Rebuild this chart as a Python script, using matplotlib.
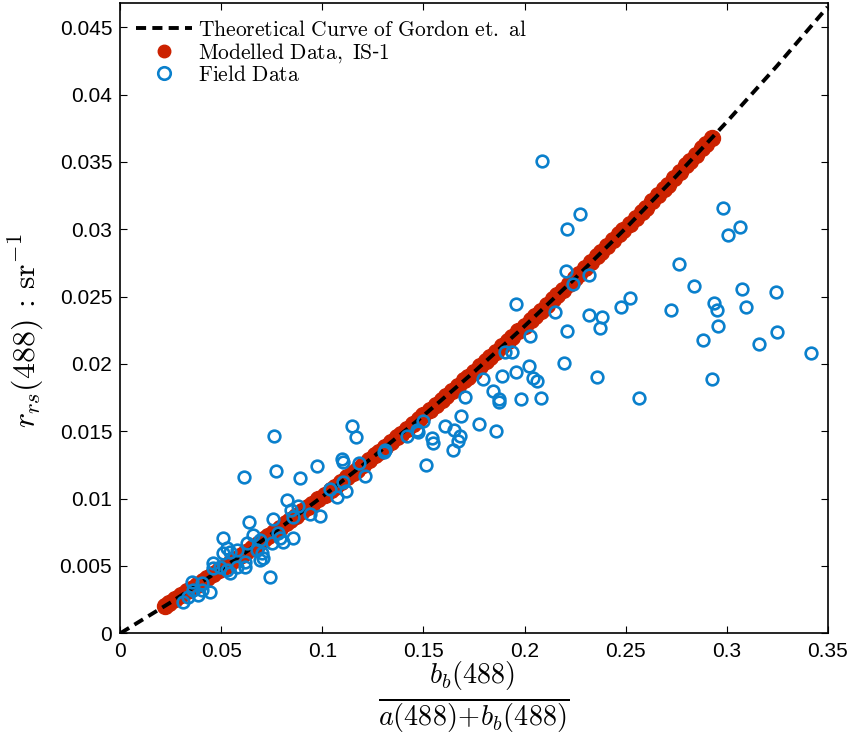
import numpy as np
import matplotlib
matplotlib.use('Agg')
import matplotlib.pyplot as plt

plt.rcParams['font.family'] = ['Liberation Sans', 'DejaVu Sans']
plt.rcParams['mathtext.fontset'] = 'cm'

    # Theoretical curve
curve_x = [0, 0.025, 0.05, 0.075, 0.1, 0.125, 0.15, 0.175, 0.2, 0.225, 0.25, 0.275, 0.3, 0.325, 0.35]
curve_y = [0, 0.0023, 0.00476, 0.00738, 0.01015, 0.01308, 0.01616, 0.0194, 0.0228, 0.02635,
           0.03006, 0.03393, 0.03795, 0.04213, 0.0465]

    # Modelled data IS-1
model_x = [0.022, 0.024, 0.027, 0.030, 0.033, 0.035, 0.038, 0.041, 0.043, 0.046, 0.049, 0.052,
           0.054, 0.057, 0.060, 0.062, 0.065, 0.068, 0.071, 0.073, 0.076, 0.079, 0.082, 0.084,
           0.087, 0.090, 0.093, 0.095, 0.098, 0.101, 0.104, 0.106, 0.109, 0.112, 0.115, 0.117,
           0.120, 0.123, 0.126, 0.128, 0.131, 0.134, 0.137, 0.139, 0.142, 0.145, 0.148, 0.150,
           0.153, 0.156, 0.159, 0.161, 0.164, 0.167, 0.170, 0.172, 0.175, 0.178, 0.181, 0.183,
           0.186, 0.189, 0.192, 0.194, 0.197, 0.200, 0.203, 0.205, 0.208, 0.211, 0.214, 0.216,
           0.219, 0.222, 0.225, 0.227, 0.230, 0.233, 0.236, 0.238, 0.241, 0.244, 0.247, 0.249,
           0.252, 0.255, 0.258, 0.260, 0.263, 0.266, 0.269, 0.271, 0.274, 0.277, 0.280, 0.282,
           0.285, 0.288, 0.290, 0.293]
model_y = [0.00205, 0.00224, 0.00251, 0.00280, 0.00310, 0.00328, 0.00358, 0.00388, 0.00407, 0.00438,
           0.00468, 0.00499, 0.00519, 0.00551, 0.00582, 0.00602, 0.00634, 0.00666, 0.00697, 0.00719,
           0.00752, 0.00784, 0.00817, 0.00838, 0.00872, 0.00905, 0.00938, 0.00961, 0.00995, 0.01029,
           0.01063, 0.01087, 0.01121, 0.01157, 0.01192, 0.01215, 0.01251, 0.01287, 0.01323, 0.01347,
           0.01384, 0.01420, 0.01457, 0.01482, 0.01519, 0.01556, 0.01594, 0.01620, 0.01657, 0.01696,
           0.01734, 0.01760, 0.01799, 0.01838, 0.01877, 0.01904, 0.01943, 0.01983, 0.02023, 0.02050,
           0.02091, 0.02131, 0.02172, 0.02200, 0.02241, 0.02283, 0.02324, 0.02352, 0.02395, 0.02437,
           0.02480, 0.02508, 0.02551, 0.02594, 0.02638, 0.02667, 0.02710, 0.02755, 0.02799, 0.02829,
           0.02873, 0.02918, 0.02963, 0.02993, 0.03039, 0.03084, 0.03130, 0.03161, 0.03207, 0.03254,
           0.03300, 0.03332, 0.03379, 0.03426, 0.03474, 0.03505, 0.03553, 0.03601, 0.03633, 0.03680]

    # Field data
field_x = [0.2088, 0.2275, 0.2209, 0.2981, 0.3068, 0.3007, 0.2766, 0.2841, 0.3075, 0.3245,
           0.2207, 0.2319, 0.2239, 0.1959, 0.2524, 0.2476, 0.2724, 0.2940, 0.2954, 0.3097,
           0.2151, 0.2318, 0.2385, 0.2375, 0.2212, 0.2959, 0.2884, 0.3249, 0.3162, 0.3417,
           0.2027, 0.1905, 0.1938, 0.2197, 0.2021, 0.1956, 0.1889, 0.1795, 0.2044, 0.2063,
           0.2359, 0.2928, 0.1846, 0.1872, 0.1872, 0.1981, 0.2080, 0.2567, 0.1707, 0.1687,
           0.1776, 0.1857, 0.1606, 0.1499, 0.1651, 0.1474, 0.1417, 0.1681, 0.1541, 0.1672,
           0.1645, 0.1549, 0.1466, 0.1511, 0.1309, 0.1306, 0.1145, 0.1164, 0.1097, 0.1100,
           0.1182, 0.1209, 0.1103, 0.1116, 0.1037, 0.1070, 0.0761, 0.0610, 0.0768, 0.0889,
           0.0971, 0.0826, 0.0880, 0.0843, 0.0855, 0.0938, 0.0988, 0.0756, 0.0635, 0.0657,
           0.0781, 0.0749, 0.0806, 0.0855, 0.0509, 0.0625, 0.0691, 0.0674, 0.0699, 0.0526,
           0.0542, 0.0509, 0.0575, 0.0459, 0.0456, 0.0493, 0.0526, 0.0542, 0.0575, 0.0616,
           0.0616, 0.0691, 0.0707, 0.0740, 0.0790, 0.0352, 0.0360, 0.0402, 0.0443, 0.0311,
           0.0336, 0.0385, 0.0402]
field_y = [0.03506, 0.03115, 0.03003, 0.03161, 0.03015, 0.02958, 0.02745, 0.02581, 0.02554, 0.02535,
           0.02688, 0.02663, 0.02594, 0.02448, 0.02487, 0.02420, 0.02398, 0.02450, 0.02401, 0.02423,
           0.02386, 0.02364, 0.02351, 0.02264, 0.02242, 0.02284, 0.02180, 0.02234, 0.02150, 0.02078,
           0.02210, 0.02091, 0.02091, 0.02007, 0.01984, 0.01937, 0.01907, 0.01888, 0.01892, 0.01870,
           0.01903, 0.01890, 0.01799, 0.01736, 0.01717, 0.01736, 0.01746, 0.01749, 0.01756, 0.01613,
           0.01553, 0.01503, 0.01538, 0.01573, 0.01506, 0.01494, 0.01461, 0.01461, 0.01449, 0.01424,
           0.01362, 0.01416, 0.01511, 0.01251, 0.01362, 0.01342, 0.01535, 0.01455, 0.01293, 0.01271,
           0.01263, 0.01171, 0.01126, 0.01059, 0.01072, 0.01015, 0.01466, 0.01159, 0.01201, 0.01154,
           0.01238, 0.00990, 0.00946, 0.00916, 0.00866, 0.00886, 0.00871, 0.00847, 0.00827, 0.00730,
           0.00743, 0.00668, 0.00680, 0.00706, 0.00706, 0.00668, 0.00693, 0.00619, 0.00594, 0.00631,
           0.00606, 0.00594, 0.00619, 0.00520, 0.00483, 0.00494, 0.00470, 0.00445, 0.00494, 0.00494,
           0.00532, 0.00544, 0.00557, 0.00420, 0.00706, 0.00383, 0.00321, 0.00321, 0.00309, 0.00234,
           0.00271, 0.00284, 0.00371]

xticks = [0, 0.05, 0.1, 0.15, 0.2, 0.25, 0.3, 0.35]
yticks = [0, 0.005, 0.01, 0.015, 0.02, 0.025, 0.03, 0.035, 0.04, 0.045]

red = '#CC2200'
blue = '#0A80CC'

fig = plt.figure(figsize=(8.49, 7.36), dpi=100)
ax = fig.add_axes([0.1419, 0.1397, 0.8328, 0.8562])

ax.plot(curve_x, curve_y, color='black', lw=2.8, dashes=(2.6, 1.6), zorder=3,
        label=r'$\mathrm{Theoretical\ Curve\ of\ Gordon\ et.\ al}$')
ax.plot(model_x, model_y, 'o', color=red, ms=11.5, mec=red, zorder=2,
        label=r'$\mathrm{Modelled\ Data,\ IS}$-$\mathrm{1}$')
ax.plot(field_x, field_y, 'o', mfc='none', mec=blue, ms=8.4, mew=1.9, zorder=4,
        label=r'$\mathrm{Field\ Data}$')

ax.set_xlim(0, 0.35)
ax.set_ylim(0, 0.0468)
ax.set_xticks(xticks)
ax.set_xticklabels(['0', '0.05', '0.1', '0.15', '0.2', '0.25', '0.3', '0.35'])
ax.set_yticks(yticks)
ax.set_yticklabels(['0', '0.005', '0.01', '0.015', '0.02', '0.025', '0.03', '0.035', '0.04', '0.045'])
ax.tick_params(direction='in', length=5, width=0.8, labelsize=15, top=True, right=True, pad=6)
for s in ax.spines.values():
    s.set_linewidth(1.2)

ax.set_xlabel(r'$\frac{b_b(488)}{a(488)\!+\!b_b(488)}$', fontsize=29, labelpad=0)
ax.set_ylabel(r'$r_{rs}(488)\,:\,\mathrm{sr}^{-1}$', fontsize=23, labelpad=10)
ax.yaxis.label.set_y(0.48)

leg = ax.legend(loc='upper left', frameon=False, fontsize=15.5, handlelength=2.6,
                handletextpad=0.3, labelspacing=0.0, borderaxespad=0.3,
                bbox_to_anchor=(0.0, 0.997))
for h in leg.legend_handles[1:]:
    h.set_markersize(9)

fig.savefig('out.png', dpi=100)
